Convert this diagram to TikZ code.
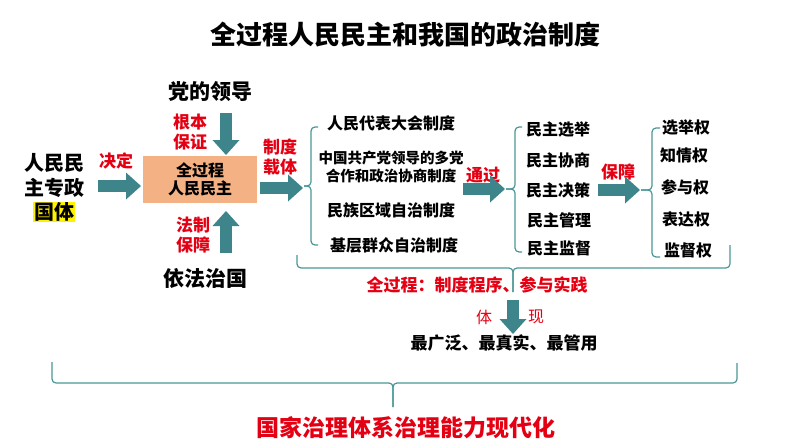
\documentclass[tikz,border=0pt]{standalone}
\usepackage{fontspec}
\setmainfont{Noto Sans CJK SC}
\usetikzlibrary{arrows.meta}

\definecolor{arrowteal}{RGB}{61,133,139}
\definecolor{bracegreen}{RGB}{74,150,150}
\definecolor{hlred}{RGB}{228,0,18}
\definecolor{boxpeach}{RGB}{244,178,132}

\begin{document}
\begin{tikzpicture}[
        x = 1pt, y = -1pt,
        line join = round,
        bigarrow/.style = {line width=12pt, arrowteal, -{Triangle[length=15pt, width=27pt, line width=0pt]}},
        bracestyle/.style = {line width=1.2pt, bracegreen, rounded corners=4pt},
        blk/.style = {font=\fontsize{17}{20}\selectfont\bfseries, align=center, inner sep=0pt},
        item/.style = {font=\fontsize{16}{19}\selectfont\bfseries, align=center, inner sep=0pt},
        redlbl/.style = {font=\fontsize{17}{20}\selectfont\bfseries, text=hlred, align=center, inner sep=0pt}
    ]

    \useasboundingbox (0, 0) rectangle (794, 447);

    \node[font=\fontsize{26}{30}\selectfont\bfseries] (title) at (405, 35) {全过程人民民主和我国的政治制度};

    % left part
    \node[blk, font=\fontsize{20}{25}\selectfont\bfseries] (zhuanzheng) at (54, 175) {人民民\\主专政};
    \node[blk, font=\fontsize{20}{25}\selectfont\bfseries, fill=yellow, inner sep=1pt] (guoti) at (54, 212) {国体};
    \node[redlbl] (jueding) at (116, 161) {决定};

    \node[fill=boxpeach, minimum width=114pt, minimum height=47pt, align=center,
          font=\fontsize{16}{18}\selectfont\bfseries] (quan) at (200, 179) {全过程\\人民民主};

    \node[blk, font=\fontsize{21}{24}\selectfont\bfseries] (dang) at (210, 92) {党的领导};
    \node[redlbl] (genben) at (190, 132) {根本\\保证};
    \node[redlbl] (fazhi) at (193, 235) {法制\\保障};
    \node[blk, font=\fontsize{21}{24}\selectfont\bfseries] (yifa) at (205, 278) {依法治国};
    \node[redlbl] (zaiti) at (280, 157) {制度\\载体};

    \coordinate (a1s) at (98, 186);   \coordinate (a1e) at (141, 186);
    \coordinate (a2s) at (226, 113);  \coordinate (a2e) at (226, 155);
    \coordinate (a3s) at (226, 253);  \coordinate (a3e) at (226, 211);
    \coordinate (a4s) at (260, 188);  \coordinate (a4e) at (303, 188);

    \draw[bigarrow] (a1s) -- (a1e);
    \draw[bigarrow] (a2s) -- (a2e);
    \draw[bigarrow] (a3s) -- (a3e);
    \draw[bigarrow] (a4s) -- (a4e);

    % systems
    \draw[bracestyle] (318, 127) -- (311, 127) -- (311, 186) -- (304, 186);
    \draw[bracestyle] (318, 245) -- (311, 245) -- (311, 186) -- (304, 186);

    \node[item] (renda) at (391, 123) {人民代表大会制度};
    \node[item, font=\fontsize{14.5}{18}\selectfont\bfseries] (zhengxie) at (391, 167) {中国共产党领导的多党\\合作和政治协商制度};
    \node[item] (minzu) at (391, 210) {民族区域自治制度};
    \node[item] (jiceng) at (394, 245) {基层群众自治制度};

    \node[redlbl] (tongguo) at (483, 175) {通过};
    \coordinate (a5s) at (463, 189);  \coordinate (a5e) at (505, 189);
    \draw[bigarrow] (a5s) -- (a5e);

    % democracy
    \draw[bracestyle] (522, 127) -- (515, 127) -- (515, 189) -- (506, 189);
    \draw[bracestyle] (522, 252) -- (515, 252) -- (515, 189) -- (506, 189);

    \node[item] (xuanju) at (558, 129) {民主选举};
    \node[item] (xieshang) at (558, 160) {民主协商};
    \node[item] (juece) at (558, 190) {民主决策};
    \node[item] (guanli) at (559, 220) {民主管理};
    \node[item] (jiandu) at (559, 248) {民主监督};

    \node[redlbl] (baozhang) at (618, 172) {保障};
    \coordinate (a6s) at (598, 190);  \coordinate (a6e) at (640, 190);
    \draw[bigarrow] (a6s) -- (a6e);

    % rights
    \draw[bracestyle] (660, 128) -- (652, 128) -- (652, 190) -- (641, 190);
    \draw[bracestyle] (660, 257) -- (652, 257) -- (652, 190) -- (641, 190);

    \node[item] (xuanjuquan) at (686, 127) {选举权};
    \node[item] (zhiqing) at (684, 155) {知情权};
    \node[item] (canyu) at (685, 187) {参与权};
    \node[item] (biaoda) at (686, 219) {表达权};
    \node[item] (jianduquan) at (688, 250) {监督权};

    % whole process
    \draw[bracestyle] (297, 255) -- (297, 268) -- (513, 268) -- (513, 292);
    \draw[bracestyle] (730, 245) -- (730, 268) -- (513, 268) -- (513, 292);

    \node[redlbl] (chengxu) at (477, 285) {全过程：制度程序、参与实践};
    \coordinate (a7s) at (513, 300);  \coordinate (a7e) at (513, 334);
    \draw[bigarrow] (a7s) -- (a7e);
    \node[font=\fontsize{16}{18}\selectfont, text=hlred] (ti) at (484, 317) {体};
    \node[font=\fontsize{16}{18}\selectfont, text=hlred] (xian) at (536, 317) {现};
    \node[blk] (zui) at (504, 343) {最广泛、最真实、最管用};

    % bottom
    \draw[bracestyle] (52, 362) -- (52, 383) -- (393, 383) -- (393, 407);
    \draw[bracestyle] (737, 363) -- (737, 383) -- (393, 383) -- (393, 407);

    \node[redlbl, font=\fontsize{23}{26}\selectfont\bfseries] (xiandaihua) at (406, 428) {国家治理体系治理能力现代化};

\end{tikzpicture}
\end{document}
